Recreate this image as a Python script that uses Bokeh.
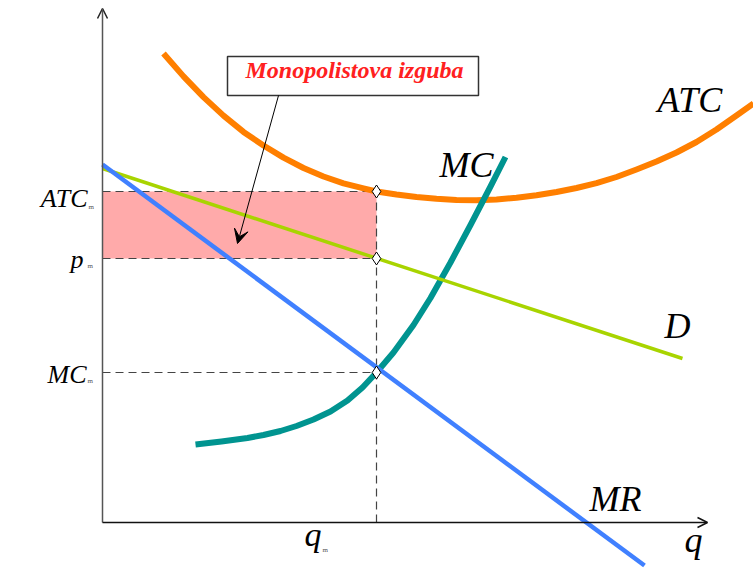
from bokeh.plotting import figure
from bokeh.models import Range1d, Arrow, OpenHead, VeeHead
from bokeh.core.properties import value
from bokeh.embed import file_html
from bokeh.resources import INLINE

# ---- data (quantity q, price P) ----
q_m = 274
atc_m = 331
p_m = 264
mc_m = 150

# demand D (linear)
d_q = [0, 580]
d_p = [354, 164]

# marginal revenue MR (linear)
mr_q = [0, 542]
mr_p = [358, -43]

# average total cost ATC (U-shaped)
atc_q = [61, 81, 101, 121, 141, 161, 181, 201, 221, 241, 261, 274, 294, 314, 334,
         354, 374, 394, 414, 434, 454, 474, 494, 514, 534, 554, 574, 594, 614, 634, 651]
atc_p = [469, 446.1, 425.4, 406.9, 390.6, 377, 364.9, 354.5, 346, 339.2, 334.1, 331, 328,
         325.5, 323.7, 322.5, 322.2, 323, 324.7, 327.2, 330.5, 334.5, 339.4, 345.5, 353,
         361, 370, 380.5, 393, 407, 419]

# marginal cost MC
mc_q = [93, 119, 145, 161, 178, 194, 211, 228, 245, 260, 274, 291, 311, 328, 348, 368, 388, 403]
mc_p = [78, 81, 84.5, 87.5, 91.5, 96.5, 103, 111, 122, 135, 150, 170, 197.5, 224.5,
        260, 297.5, 336, 365.5]

SERIF = value("Liberation Serif")

p = figure(width=753, height=568, output_backend="svg", toolbar_location=None,
           x_range=Range1d(-102, 651), y_range=Range1d(-46, 522),
           min_border=0, outline_line_color=None, background_fill_color="white")
p.axis.visible = False
p.grid.visible = False

# monopoly loss rectangle
p.quad(left=[0], right=[q_m], bottom=[p_m], top=[atc_m],
       fill_color="#FFAAAA", line_color=None)

# dashed guides
dash = dict(line_color="#444444", line_width=1.2, line_dash="8 5")
for lvl in (atc_m, p_m, mc_m):
    p.line([0, q_m], [lvl, lvl], **dash)
p.line([q_m, q_m], [0, atc_m], **dash)

# coordinate axes with arrow heads
p.add_layout(Arrow(end=OpenHead(size=10, line_color="#222222", line_width=1.5),
                   x_start=0, y_start=0, x_end=0, y_end=514,
                   line_color="#555555", line_width=1.5))
p.add_layout(Arrow(end=OpenHead(size=10, line_color="#111111", line_width=1.5),
                   x_start=0, y_start=0, x_end=605, y_end=0,
                   line_color="#111111", line_width=1.5))

# curves
p.line(atc_q, atc_p, line_color="#FF7F00", line_width=6, line_join="round")
p.line(mc_q, mc_p, line_color="#009490", line_width=6, line_join="round")
p.line(d_q, d_p, line_color="#A8D400", line_width=3.5)
p.line(mr_q, mr_p, line_color="#4080FF", line_width=4.5)

# equilibrium points
p.scatter([q_m, q_m, q_m], [atc_m, p_m, mc_m], marker="diamond", size=13,
          fill_color="white", line_color="black", line_width=1)

# curve labels
big = dict(text_font=SERIF, text_font_style="italic", text_font_size="36px",
           text_color="black", text_baseline="alphabetic", text_align="left")
p.text(x=[555], y=[423], text=["ATC"], **big)
p.text(x=[337], y=[358], text=["MC"], **big)
p.text(x=[562], y=[197], text=["D"], **big)
p.text(x=[487], y=[24], text=["MR"], **big)
p.text(x=[582], y=[-17], text=["q"], **big)
p.text(x=[202], y=[-12], text=["q"], text_align="left",
       text_font=SERIF, text_font_style="italic", text_font_size="34px",
       text_baseline="alphabetic")

# axis value labels
small = dict(text_font=SERIF, text_font_style="italic", text_font_size="26px",
             text_color="black", text_baseline="alphabetic", text_align="right")
p.text(x=[-15], y=[324], text=["ATC"], **small)
p.text(x=[-19], y=[263], text=["p"], **small)
p.text(x=[-16], y=[148], text=["MC"], **small)

# tiny "m" subscripts
sub = dict(text_font=SERIF, text_font_size="7px", text_color="#555555",
           text_baseline="alphabetic", text_align="left")
p.text(x=[-14, -15, -15, 220], y=[315.5, 256.5, 141.5, -27.5],
       text=["m", "m", "m", "m"], **sub)

# callout box with arrow
p.quad(left=[125], right=[376], bottom=[427], top=[466],
       fill_color="white", line_color="#333333", line_width=1.5)
p.text(x=[252], y=[453], text=["Monopolistova izguba"], text_align="center",
       text_baseline="alphabetic", text_font=SERIF, text_font_style="bold italic",
       text_font_size="24px", text_color="#FF2020")
p.add_layout(Arrow(end=VeeHead(size=14, fill_color="black", line_color="black", line_width=1),
                   x_start=176, y_start=427, x_end=135, y_end=279,
                   line_color="black", line_width=1))

open("out.html", "w").write(file_html(p, INLINE))
